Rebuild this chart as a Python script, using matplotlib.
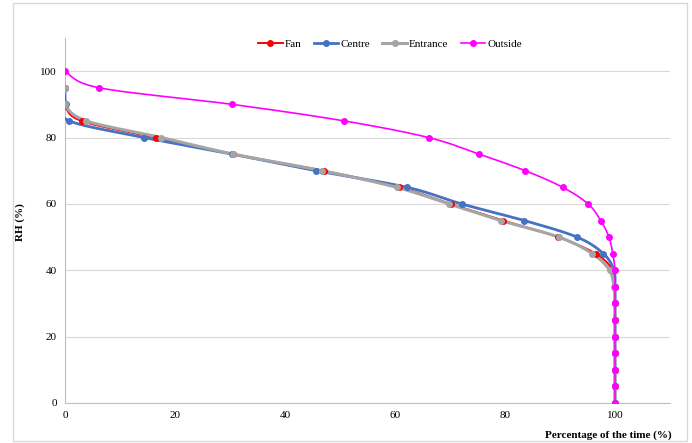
import numpy as np
import matplotlib.pyplot as plt
from matplotlib.patches import Rectangle
from matplotlib.lines import Line2D

plt.rcParams['font.family'] = ['Liberation Serif', 'DejaVu Serif']

# RH levels and the share of time (%) each level is reached
rh_in = [95, 90, 85, 80, 75, 70, 65, 60, 55, 50, 45, 40, 35, 30, 25, 20, 15, 10, 5, 0]
rh_out = [100] + rh_in

fan = [0, 0, 3.0, 16.5, 30.5, 47.0, 60.8, 70.1, 79.7, 89.6, 96.5, 99.6,
       100, 100, 100, 100, 100, 100, 100, 100]
centre = [0, 0.1, 0.8, 14.4, 30.4, 45.7, 62.2, 72.1, 83.5, 93.1, 97.9, 99.8,
          100, 100, 100, 100, 100, 100, 100, 100]
entrance = [0, 0, 3.9, 17.5, 30.6, 46.8, 60.3, 69.8, 79.2, 89.8, 95.9, 99.0,
            99.8, 100, 100, 100, 100, 100, 100, 100]
outside = [0, 6.2, 30.4, 50.8, 66.1, 75.3, 83.7, 90.5, 95.1, 97.4, 98.9, 99.6,
           100, 100, 100, 100, 100, 100, 100, 100, 100]

series = [
    ('Fan', fan, rh_in, '#FF0000', 1.4),
    ('Centre', centre, rh_in, '#4472C4', 2.0),
    ('Entrance', entrance, rh_in, '#A5A5A5', 2.2),
    ('Outside', outside, rh_out, '#FF00FF', 1.2),
]


def smooth(x, y, n=20):
    # Catmull-Rom curve through the points (spreadsheet-style smoothed line)
    p = np.column_stack([x, y]).astype(float)
    p = np.vstack([p[0], p, p[-1]])
    out = []
    t = np.linspace(0, 1, n, endpoint=False)[:, None]
    for i in range(1, len(p) - 2):
        p0, p1, p2, p3 = p[i - 1], p[i], p[i + 1], p[i + 2]
        seg = 0.5 * ((2 * p1) + (-p0 + p2) * t + (2 * p0 - 5 * p1 + 4 * p2 - p3) * t ** 2
                     + (-p0 + 3 * p1 - 3 * p2 + p3) * t ** 3)
        out.append(seg)
    out.append(p[-2][None, :])
    out = np.vstack(out)
    return out[:, 0], out[:, 1]


fig = plt.figure(figsize=(6.92, 4.43), dpi=100)
ax = fig.add_axes([65 / 692, 1 - 403 / 443, 605 / 692, 365 / 443])

handles = []
for name, xs, ys, col, lw in series:
    sx, sy = smooth(xs, ys)
    ax.plot(sx, sy, color=col, lw=lw, solid_capstyle='round', zorder=3)
    ax.plot(xs, ys, 'o', color=col, ms=4, zorder=4)
    handles.append(Line2D([], [], color=col, lw=lw, marker='o', ms=4))

ax.set_xlim(0, 110)
ax.set_ylim(0, 110)
ax.set_xticks([0, 20, 40, 60, 80, 100])
ax.set_yticks([0, 20, 40, 60, 80, 100])
ax.grid(axis='y', color='#D9D9D9', lw=0.8)
ax.set_axisbelow(True)
for s in ['top', 'right']:
    ax.spines[s].set_visible(False)
for s in ['left', 'bottom']:
    ax.spines[s].set_color('#BFBFBF')
    ax.spines[s].set_linewidth(0.8)
ax.tick_params(length=0, labelsize=8, pad=6)

fig.legend(handles, [s[0] for s in series], loc='center', ncol=4,
           bbox_to_anchor=(390 / 692, 1 - 44 / 443), frameon=False,
           fontsize=8, handlelength=2.2, columnspacing=1.1, handletextpad=0.2)

fig.text(20 / 692, 1 - 222 / 443, 'RH (%)', rotation=90, ha='center', va='center',
         fontsize=8, fontweight='bold')
fig.text(608 / 692, 1 - 435 / 443, 'Percentage of the time (%)', ha='center', va='center',
         fontsize=8, fontweight='bold')

fig.patches.append(Rectangle((13 / 692, 1 - 441 / 443), 674 / 692, 438 / 443,
                             transform=fig.transFigure, fill=False,
                             edgecolor='#D9D9D9', lw=1))

fig.savefig('out.png', dpi=100)
